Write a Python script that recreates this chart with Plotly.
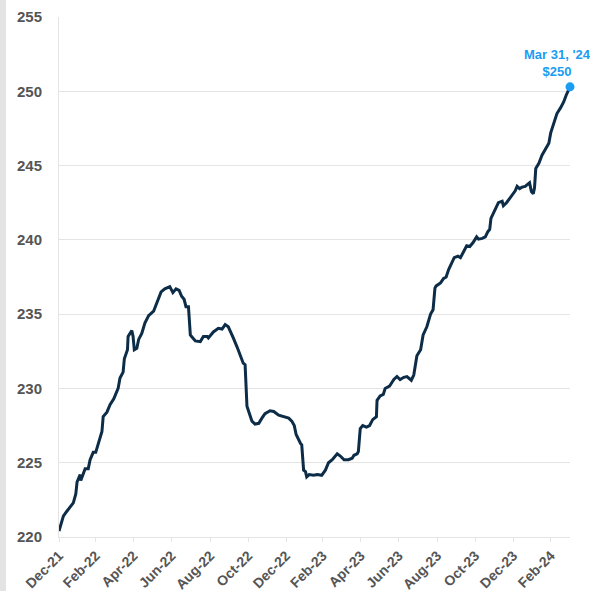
import plotly.graph_objects as go

dates = [
    "2021-12-31", "2022-01-07", "2022-01-12", "2022-01-23", "2022-01-27", "2022-01-29",
    "2022-02-03", "2022-02-04", "2022-02-11", "2022-02-16", "2022-02-19", "2022-02-24",
    "2022-02-28", "2022-03-07", "2022-03-10", "2022-03-12", "2022-03-18", "2022-03-23",
    "2022-03-26", "2022-03-29", "2022-04-05", "2022-04-08", "2022-04-13", "2022-04-15",
    "2022-04-20", "2022-04-21", "2022-04-27", "2022-04-29", "2022-05-01", "2022-05-05",
    "2022-05-08", "2022-05-13", "2022-05-18", "2022-05-24", "2022-06-01", "2022-06-06",
    "2022-06-13", "2022-06-19", "2022-06-27", "2022-07-02", "2022-07-07", "2022-07-12",
    "2022-07-16", "2022-07-20", "2022-07-23", "2022-07-27", "2022-07-30", "2022-08-01",
    "2022-08-07", "2022-08-15", "2022-08-20", "2022-08-26", "2022-08-28", "2022-09-05",
    "2022-09-13", "2022-09-19", "2022-09-24", "2022-09-29", "2022-10-02", "2022-10-07",
    "2022-10-13", "2022-10-18", "2022-10-23", "2022-10-26", "2022-10-29", "2022-10-31",
    "2022-11-06", "2022-11-11", "2022-11-17", "2022-11-22", "2022-11-27", "2022-12-05",
    "2022-12-11", "2022-12-19", "2022-12-27", "2023-01-04", "2023-01-09", "2023-01-13",
    "2023-01-16", "2023-01-20", "2023-01-23", "2023-01-25", "2023-01-28", "2023-01-31",
    "2023-02-02", "2023-02-06", "2023-02-13", "2023-02-19", "2023-02-26", "2023-03-04",
    "2023-03-09", "2023-03-15", "2023-03-23", "2023-03-28", "2023-04-03", "2023-04-10",
    "2023-04-16", "2023-04-19", "2023-04-24", "2023-04-26", "2023-04-29", "2023-05-03",
    "2023-05-09", "2023-05-14", "2023-05-19", "2023-05-25", "2023-05-26", "2023-05-31",
    "2023-06-05", "2023-06-08", "2023-06-15", "2023-06-22", "2023-06-27", "2023-07-02",
    "2023-07-08", "2023-07-13", "2023-07-20", "2023-07-24", "2023-07-29", "2023-08-04",
    "2023-08-08", "2023-08-14", "2023-08-20", "2023-08-24", "2023-08-27", "2023-08-29",
    "2023-09-05", "2023-09-10", "2023-09-14", "2023-09-18", "2023-09-24", "2023-09-27",
    "2023-10-03", "2023-10-07", "2023-10-12", "2023-10-17", "2023-10-22", "2023-10-27",
    "2023-11-02", "2023-11-05", "2023-11-11", "2023-11-16", "2023-11-20", "2023-11-23",
    "2023-11-25", "2023-11-29", "2023-12-04", "2023-12-07", "2023-12-13", "2023-12-15",
    "2023-12-20", "2023-12-25", "2023-12-31", "2024-01-03", "2024-01-06", "2024-01-10",
    "2024-01-14", "2024-01-19", "2024-01-26", "2024-01-29", "2024-02-01", "2024-02-03",
    "2024-02-05", "2024-02-10", "2024-02-15", "2024-02-21", "2024-02-26", "2024-02-29",
    "2024-03-05", "2024-03-10", "2024-03-16", "2024-03-21", "2024-03-25", "2024-03-28",
    "2024-03-31",
]

values = [
    220.4, 221.4, 221.7, 222.3, 222.9, 223.7,
    224.2, 223.8, 224.6, 224.6, 225.2, 225.7,
    225.7, 226.75, 227.1, 228.1, 228.4, 228.9,
    229.1, 229.3, 230.0, 230.7, 231.1, 232.0,
    232.6, 233.5, 233.9, 233.5, 232.6, 232.7,
    233.3, 233.7, 234.4, 234.9, 235.2, 235.7,
    236.5, 236.7, 236.85, 236.45, 236.7, 236.6,
    236.2, 236.0, 235.5, 235.5, 233.6, 233.5,
    233.2, 233.15, 233.5, 233.5, 233.4, 233.8,
    234.05, 234.0, 234.3, 234.15, 233.9, 233.4,
    232.8, 232.3, 231.7, 231.6, 228.8, 228.55,
    227.8, 227.6, 227.65, 228.0, 228.3, 228.5,
    228.45, 228.2, 228.1, 228.0, 227.8, 227.5,
    226.9, 226.5, 226.3, 226.2, 224.5, 224.4,
    224.05, 224.2, 224.15, 224.2, 224.15, 224.5,
    225.0, 225.2, 225.6, 225.45, 225.2, 225.2,
    225.3, 225.5, 225.6, 225.75, 227.3, 227.5,
    227.4, 227.5, 227.9, 228.1, 229.2, 229.5,
    229.6, 230.0, 230.15, 230.6, 230.8, 230.6,
    230.75, 230.8, 230.55, 230.9, 232.2, 232.6,
    233.6, 234.15, 235.0, 235.3, 236.75, 236.9,
    237.1, 237.4, 237.5, 238.0, 238.5, 238.8,
    238.9, 238.8, 239.2, 239.6, 239.55, 239.8,
    240.2, 240.05, 240.1, 240.2, 240.55, 240.7,
    241.45, 241.8, 242.3, 242.5, 242.6, 242.3,
    242.5, 242.8, 243.1, 243.3, 243.6, 243.45,
    243.55, 243.6, 243.85, 243.25, 243.1, 243.5,
    244.8, 245.15, 245.7, 246.15, 246.5, 247.2,
    247.85, 248.5, 248.9, 249.3, 249.75, 250.0,
    250.3,
]

tick_dates = [
    "2021-12-31", "2022-02-28", "2022-04-30", "2022-06-30", "2022-08-31",
    "2022-10-31", "2022-12-31", "2023-02-28", "2023-04-30", "2023-06-30",
    "2023-08-31", "2023-10-31", "2023-12-31", "2024-02-29",
]
tick_labels = [
    "Dec-21", "Feb-22", "Apr-22", "Jun-22", "Aug-22", "Oct-22", "Dec-22",
    "Feb-23", "Apr-23", "Jun-23", "Aug-23", "Oct-23", "Dec-23", "Feb-24",
]
y_ticks = [220, 225, 230, 235, 240, 245, 250, 255]

end_label = "Mar 31, '24<br>$250"

LINE = "#0c2c47"
BLUE = "#1a9cf2"
GRID = "#e4e4e4"
TXT = "#555555"
FONT = "Liberation Sans, Arial, sans-serif"

fig = go.Figure()
fig.add_trace(go.Scatter(
    x=dates, y=values, mode="lines",
    line=dict(color=LINE, width=3), hoverinfo="skip", showlegend=False,
))
fig.add_trace(go.Scatter(
    x=[dates[-1]], y=[values[-1]], mode="markers",
    marker=dict(color=BLUE, size=9), cliponaxis=False, showlegend=False,
))
fig.add_annotation(
    x=dates[-1], y=values[-1], text=end_label, showarrow=False,
    xanchor="center", yanchor="bottom", xshift=-13, yshift=6,
    font=dict(family=FONT, size=13, color=BLUE, weight="bold"),
    align="center",
)

# left grey strip (frame edge)
fig.add_shape(type="rect", xref="paper", yref="paper",
              x0=-59 / 511, x1=-53 / 511, y0=-54 / 520, y1=1 + 17 / 520,
              fillcolor="#e3e3e3", line=dict(width=0), layer="below")

fig.update_layout(
    width=590, height=591,
    margin=dict(l=59, r=20, t=17, b=54, autoexpand=False),
    paper_bgcolor="white", plot_bgcolor="white",
    font=dict(family=FONT, color=TXT),
)
fig.update_xaxes(
    type="date", range=["2021-12-31", "2024-03-31"], automargin=False,
    tickmode="array", tickvals=tick_dates, ticktext=tick_labels,
    tickangle=-45, tickfont=dict(size=14, color=TXT, family=FONT, weight="bold"),
    showgrid=False, showline=True, linecolor=GRID, linewidth=1,
    ticks="outside", ticklen=4, tickcolor=GRID, zeroline=False,
)
fig.update_yaxes(
    range=[220, 255], tickmode="array", tickvals=y_ticks, automargin=False,
    tickfont=dict(size=15, color=TXT, family=FONT, weight="bold"),
    showgrid=True, gridcolor=GRID, gridwidth=1,
    showline=True, linecolor=GRID, linewidth=1,
    ticks="", ticklabelstandoff=13, zeroline=False,
)

fig.write_html(
    "out.html",
    config={"displayModeBar": False},
    post_script="document.body.style.margin='0';document.body.style.overflow='hidden';",
)
